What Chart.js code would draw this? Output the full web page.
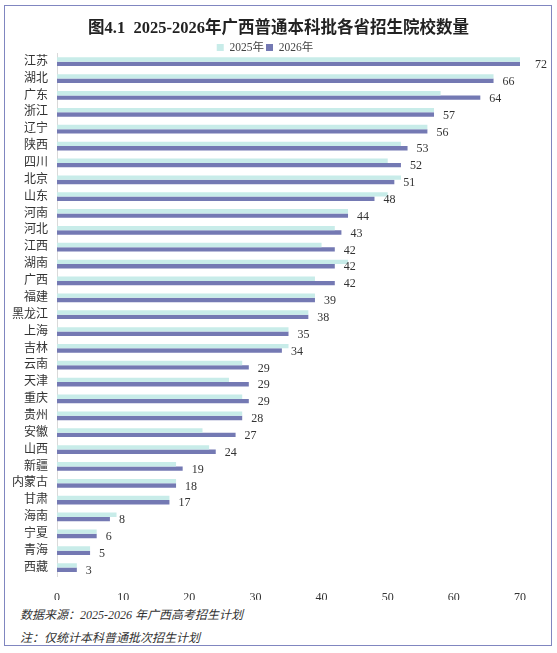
<!DOCTYPE html>
<html>
<head>
<meta charset="utf-8">
<script src="https://cdn.jsdelivr.net/npm/chart.js@4/dist/chart.umd.min.js"></script>
<style>
  html, body { margin: 0; padding: 0; background: #fff; }
  #wrap { position: relative; width: 557px; height: 653px; background: #fff; overflow: hidden; }
  #frame { position: absolute; left: 4px; top: 5px; width: 546px; height: 639px; border: 1.5px solid #8086c0; }
  #box { position: absolute; left: 0; top: 0; width: 557px; height: 600px; }
  .note { position: absolute; left: 20px; font: italic 12px 'Liberation Serif', 'Noto Sans CJK SC', serif; color: #333; white-space: nowrap; }
</style>
</head>
<body>
<div id="wrap">
  <div id="frame"></div>
  <div id="box"><canvas id="schoolChart"></canvas></div>
  <div class="note" style="top:605px">数据来源：2025-2026 年广西高考招生计划</div>
  <div class="note" style="top:628px">注：仅统计本科普通批次招生计划</div>
</div>
<script>
// provinces, top to bottom
const provinces = ['江苏', '湖北', '广东', '浙江', '辽宁', '陕西', '四川', '北京', '山东', '河南',
    '河北', '江西', '湖南', '广西', '福建', '黑龙江', '上海', '吉林', '云南', '天津',
    '重庆', '贵州', '安徽', '山西', '新疆', '内蒙古', '甘肃', '海南', '宁夏', '青海', '西藏'];
const schools2025 = [72, 66, 58, 57, 56, 52, 50, 52, 50, 44, 42, 40, 44, 39, 39, 38, 35, 35, 28, 26,
    28, 28, 22, 23, 18, 18, 17, 9, 6, 5, 3];
const schools2026 = [72, 66, 64, 57, 56, 53, 52, 51, 48, 44, 43, 42, 42, 42, 39, 38, 35, 34, 29, 29,
    29, 28, 27, 24, 19, 18, 17, 8, 6, 5, 3];
const xTicks = [0, 10, 20, 30, 40, 50, 60, 70];

const serif = "'Liberation Serif', 'Noto Sans CJK SC', serif";

// value labels after the 2026 bars
const valueLabels = {
    id: 'valueLabels',
    afterDatasetsDraw(chart) {
        const ctx = chart.ctx;
        const area = chart.chartArea;
        const meta = chart.getDatasetMeta(1);
        ctx.save();
        ctx.font = '12px ' + serif;
        ctx.fillStyle = '#333';
        ctx.textAlign = 'left';
        ctx.textBaseline = 'middle';
        meta.data.forEach((bar, i) => {
            const x = Math.min(bar.x, area.right + 6) + 9;
            ctx.fillText(String(schools2026[i]), x, bar.y + 1);
        });
        ctx.restore();
    }
};

// title centred on the whole page, legend moved down close to the bars
const nudgeBoxes = {
    id: 'nudgeBoxes',
    afterLayout(chart) {
        const t = chart.titleBlock;
        t.left = 0;
        t.right = chart.width;
        t.top += 9;
        t.bottom += 9;
        const lg = chart.legend;
        lg.top += 10;
        lg.bottom += 10;
        lg.left += 5;
        lg.right += 5;
    }
};

const schoolCtx = document.getElementById('schoolChart').getContext('2d');
const schoolChart = new Chart(schoolCtx, {
    type: 'bar',
    data: {
        labels: provinces,
        datasets: [{
            label: '2025年',
            data: schools2025,
            backgroundColor: '#c8ece9',
            categoryPercentage: 0.52,
            barPercentage: 1
        }, {
            label: '2026年',
            data: schools2026,
            backgroundColor: '#7479b3',
            categoryPercentage: 0.52,
            barPercentage: 1
        }]
    },
    options: {
        indexAxis: 'y',
        responsive: true,
        maintainAspectRatio: false,
        animation: false,
        layout: { padding: { left: 0, right: 37, top: 0, bottom: 0 } },
        plugins: {
            title: {
                display: true,
                text: '图4.1  2025-2026年广西普通本科批各省招生院校数量',
                color: '#222',
                font: { family: serif, size: 16.5, weight: 'bold' },
                padding: { top: 10, bottom: 0 }
            },
            legend: {
                labels: {
                    boxWidth: 7,
                    boxHeight: 7,
                    padding: 2,
                    color: '#444',
                    font: { family: serif, size: 11.5 }
                }
            },
            tooltip: { enabled: false }
        },
        scales: {
            x: {
                min: 0,
                max: 70,
                afterBuildTicks: (s) => { s.ticks = xTicks.map(v => ({ value: v })); },
                afterFit: (s) => { s.height = 24; },
                ticks: { color: '#333', padding: 7, font: { family: serif, size: 12 } },
                grid: { display: false },
                border: { display: false }
            },
            y: {
                afterFit: (s) => { s.width = 57; },
                ticks: { color: '#333', padding: 9, autoSkip: false, font: { family: serif, size: 12 } },
                grid: { display: false, drawTicks: false },
                border: { color: '#d9d9d9', width: 1 }
            }
        }
    },
    plugins: [valueLabels, nudgeBoxes]
});
</script>
</body>
</html>
